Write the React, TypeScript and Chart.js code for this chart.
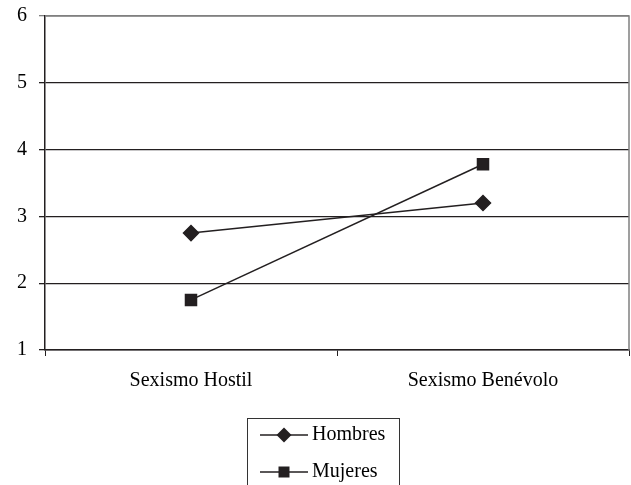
import React, { useEffect, useRef } from "react";
import { Chart, registerables } from "chart.js";

Chart.register(...registerables);

const categories = ["Sexismo Hostil", "Sexismo Benévolo"];
const hombres = [2.75, 3.2];
const mujeres = [1.75, 3.78];
const yTicks = [1, 2, 3, 4, 5, 6];

const FONT = "'Liberation Serif', 'Times New Roman', serif";

const framePlugin = {
  id: "frame",
  beforeDatasetsDraw(chart: any) {
    const { ctx, chartArea } = chart;
    ctx.save();
    ctx.strokeStyle = "#808080";
    ctx.lineWidth = 1.5;
    ctx.beginPath();
    ctx.moveTo(chartArea.left, chartArea.top);
    ctx.lineTo(chartArea.right, chartArea.top);
    ctx.lineTo(chartArea.right, chartArea.bottom);
    ctx.stroke();
    ctx.restore();
  },
  afterDraw(chart: any) {
    const { ctx } = chart;
    const bx = 247;
    const by = 418;
    ctx.save();
    ctx.strokeStyle = "#333";
    ctx.lineWidth = 1;
    ctx.strokeRect(bx + 0.5, by + 0.5, 152, 90);
    const rows = [435, 472];
    chart.data.datasets.forEach((ds: any, i: number) => {
      const y = rows[i];
      ctx.strokeStyle = "#231f20";
      ctx.lineWidth = 1.3;
      ctx.beginPath();
      ctx.moveTo(260, y);
      ctx.lineTo(308, y);
      ctx.stroke();
      ctx.fillStyle = "#231f20";
      ctx.beginPath();
      if (ds.pointStyle === "rectRot") {
        const r = 7.5;
        ctx.moveTo(284 - r, y);
        ctx.lineTo(284, y - r);
        ctx.lineTo(284 + r, y);
        ctx.lineTo(284, y + r);
        ctx.closePath();
      } else {
        ctx.rect(284 - 5.5, y - 5.5, 11, 11);
      }
      ctx.fill();
      ctx.fillStyle = "#000";
      ctx.font = `20px ${FONT}`;
      ctx.textBaseline = "middle";
      ctx.textAlign = "left";
      ctx.fillText(ds.label, 312, y);
    });
    ctx.restore();
  },
};

export default function App() {
  const ref = useRef<HTMLCanvasElement | null>(null);
  useEffect(() => {
    if (!ref.current) return;
    const chart = new Chart(ref.current, {
      type: "line",
      data: {
        labels: categories,
        datasets: [
          {
            label: "Hombres",
            data: hombres,
            borderColor: "#231f20",
            backgroundColor: "#231f20",
            borderWidth: 1.5,
            pointStyle: "rectRot",
            pointRadius: 7.5,
            pointHoverRadius: 7.5,
          },
          {
            label: "Mujeres",
            data: mujeres,
            borderColor: "#231f20",
            backgroundColor: "#231f20",
            borderWidth: 1.5,
            pointStyle: "rect",
            pointRadius: 7.8,
            pointHoverRadius: 7.8,
          },
        ],
      },
      options: {
        animation: false,
        responsive: false,
        devicePixelRatio: 1,
        layout: { autoPadding: false, padding: { left: 0, top: 16, right: 2, bottom: 0 } },
        plugins: { legend: { display: false }, tooltip: { enabled: false } },
        scales: {
          x: {
            offset: true,
            grid: {
              offset: true,
              drawOnChartArea: false,
              drawTicks: true,
              tickLength: 6,
              color: "#231f20",
            },
            border: { color: "#231f20", width: 1.5 },
            ticks: {
              color: "#000",
              font: { family: FONT, size: 20 },
              padding: 13,
            },
            afterFit(scale: any) {
              scale.height = 135;
              scale.paddingLeft = 0;
              scale.paddingRight = 0;
            },
          },
          y: {
            min: 1,
            max: 6,
            afterBuildTicks(scale: any) {
              scale.ticks = yTicks.map((v) => ({ value: v }));
            },
            grid: {
              color: (c: any) => (c.tick && c.tick.value === 6 ? "#808080" : "#231f20"),
              lineWidth: 1.3,
              tickLength: 6,
            },
            border: { color: "#231f20", width: 1.5 },
            ticks: {
              color: "#000",
              font: { family: FONT, size: 20 },
              padding: 12,
            },
            afterFit(scale: any) {
              scale.width = 45;
              scale.paddingTop = 0;
              scale.paddingBottom = 0;
            },
          },
        },
      },
      plugins: [framePlugin],
    });
    return () => chart.destroy();
  }, []);
  return (
    <div style={{ position: "fixed", left: 0, top: 0, width: 631, height: 485, background: "#fff" }}>
      <canvas ref={ref} width={631} height={485} style={{ width: 631, height: 485 }} />
    </div>
  );
}
